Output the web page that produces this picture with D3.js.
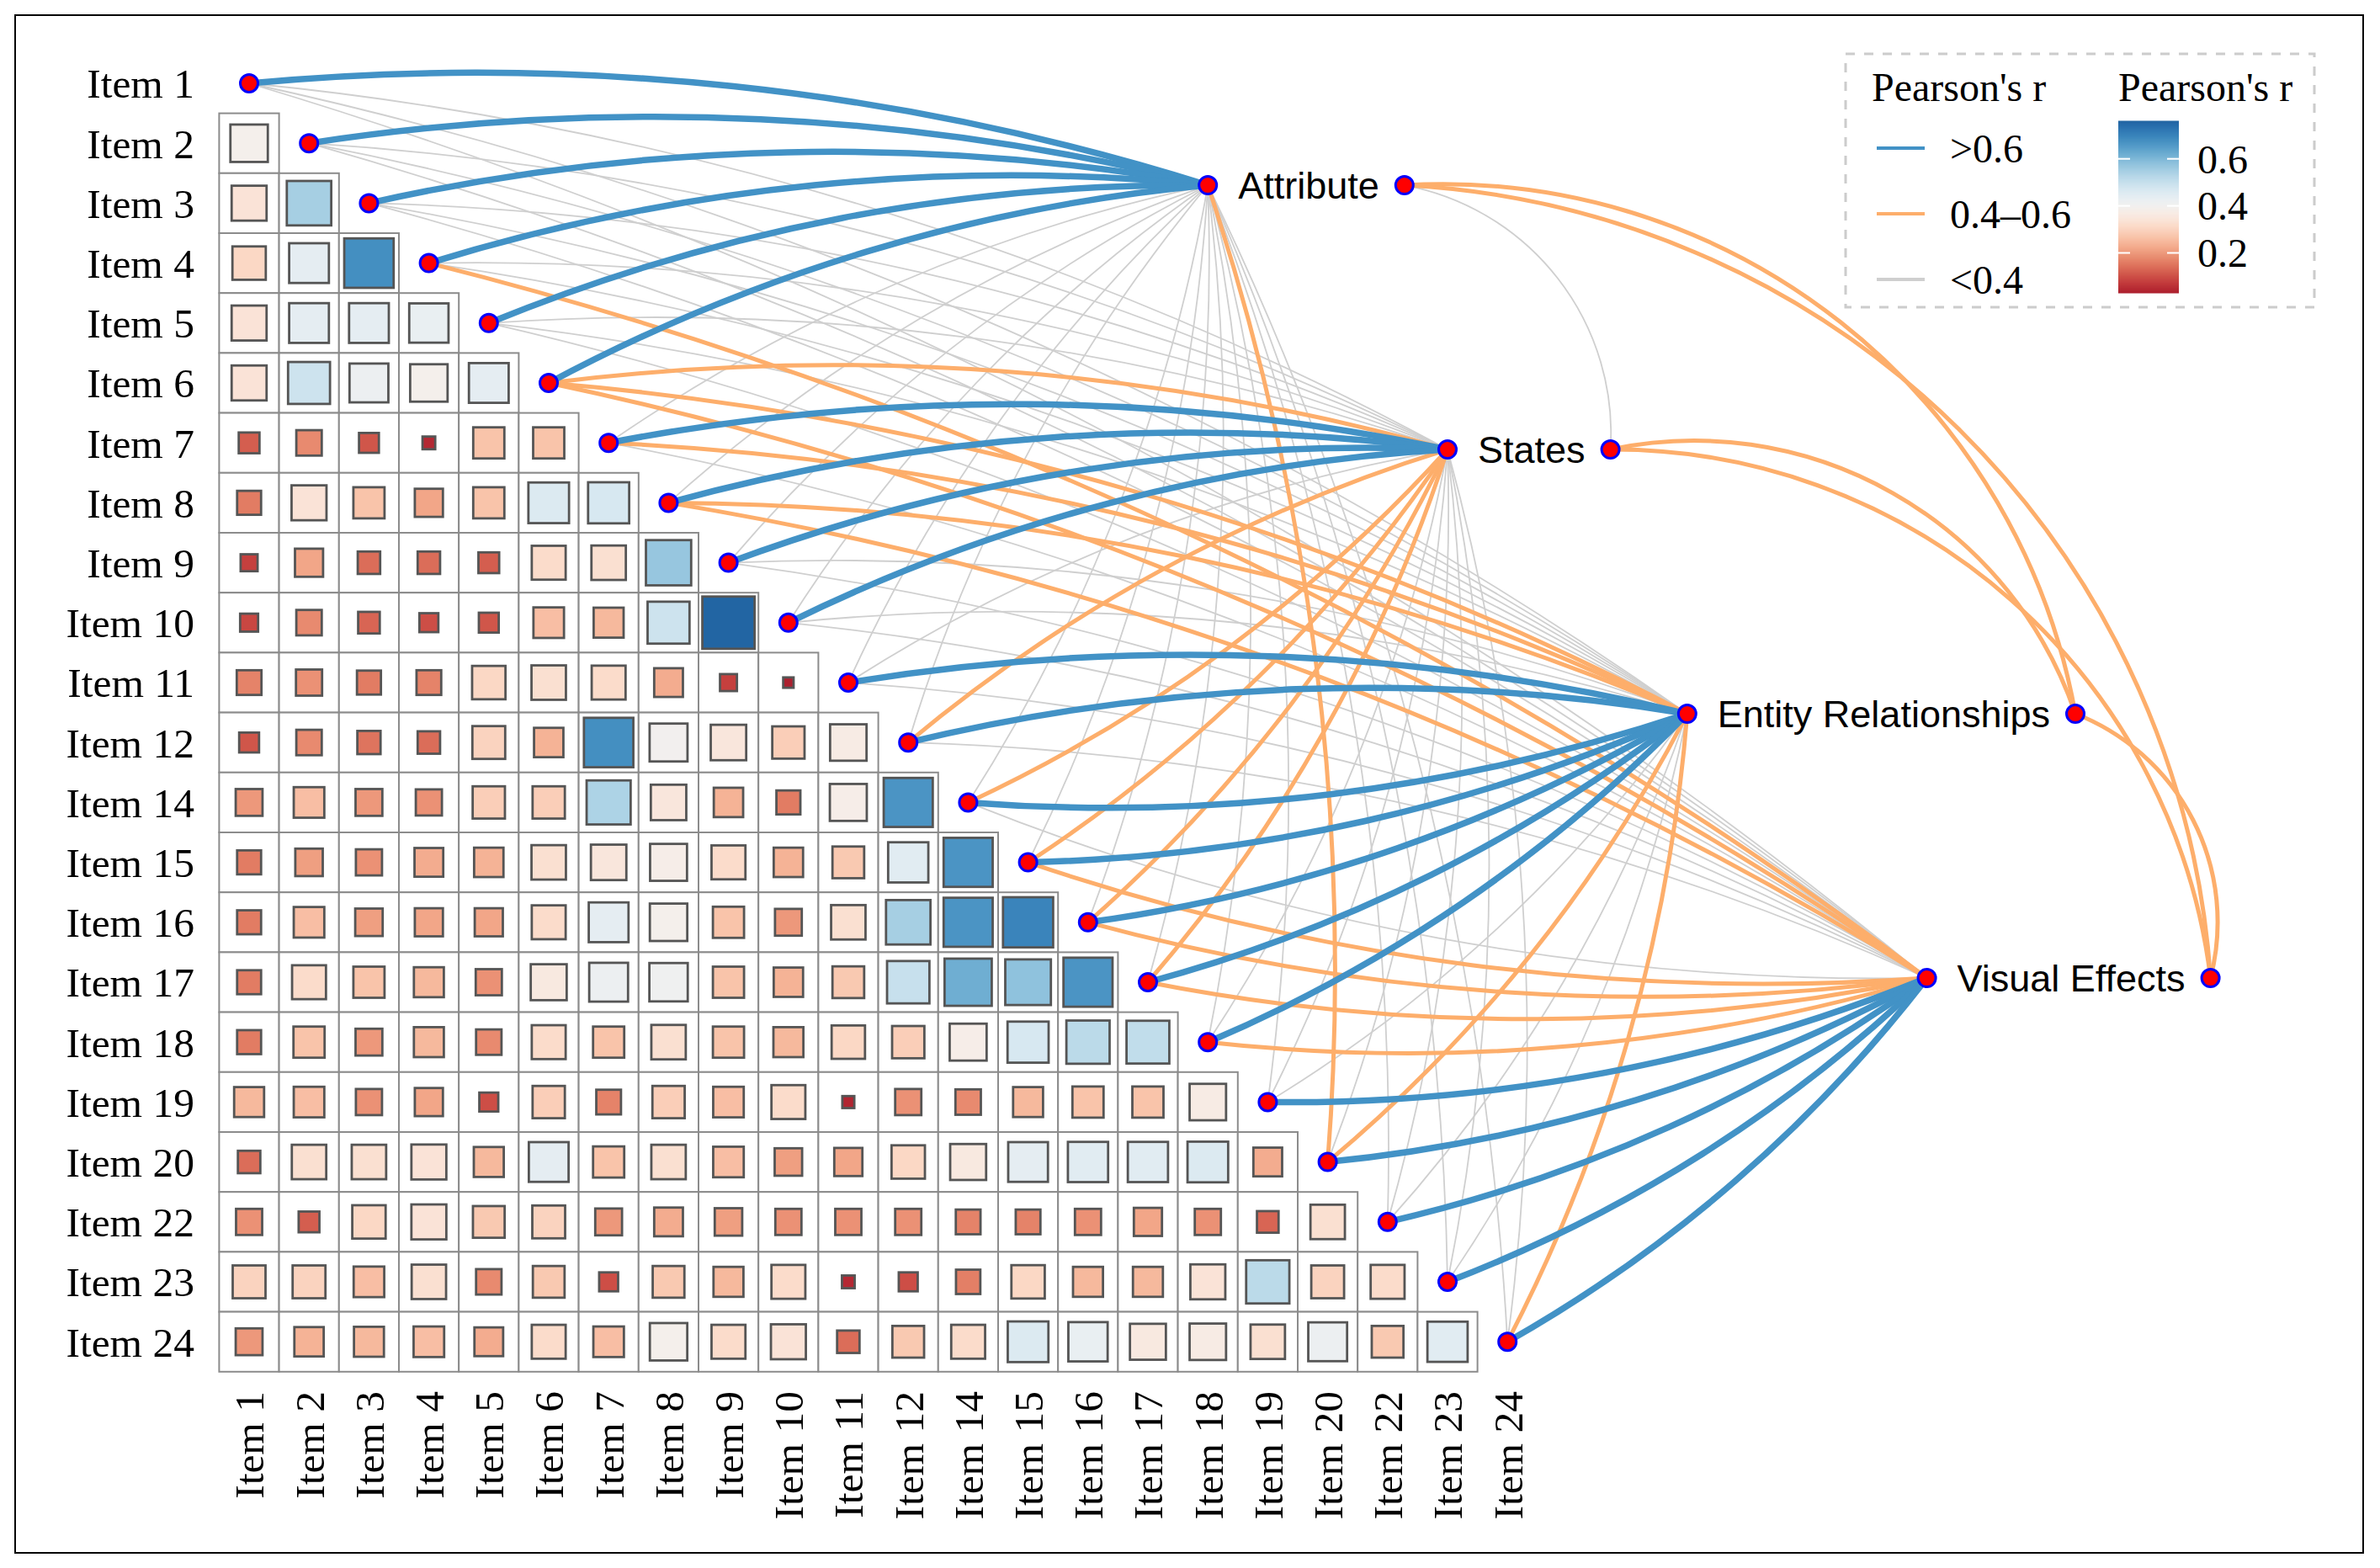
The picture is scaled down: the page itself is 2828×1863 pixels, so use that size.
<!DOCTYPE html>
<html><head><meta charset="utf-8">
<script src="https://cdn.jsdelivr.net/npm/d3@7"></script>
<style>body{margin:0;background:#fff} svg{display:block}</style>
</head><body>
<svg id="chart" width="2828" height="1863"></svg>
<script>
// ---------------- DATA ----------------
const items = ["Item 1","Item 2","Item 3","Item 4","Item 5","Item 6","Item 7","Item 8","Item 9","Item 10","Item 11","Item 12","Item 14","Item 15","Item 16","Item 17","Item 18","Item 19","Item 20","Item 22","Item 23","Item 24"];

// lower triangle of the item correlation matrix (row i holds columns 0..i-1)
const corrRows = [
  [],
  [0.39],
  [0.34,0.55],
  [0.31,0.44,0.68],
  [0.34,0.44,0.44,0.43],
  [0.34,0.49,0.42,0.39,0.44],
  [0.12,0.18,0.11,0.045,0.27,0.27],
  [0.16,0.34,0.27,0.22,0.27,0.46,0.47],
  [0.08,0.22,0.14,0.14,0.12,0.32,0.33,0.57],
  [0.09,0.18,0.13,0.10,0.11,0.26,0.25,0.49,0.76],
  [0.17,0.19,0.16,0.17,0.31,0.33,0.32,0.23,0.08,0.03],
  [0.11,0.18,0.15,0.14,0.30,0.24,0.68,0.40,0.35,0.29,0.37],
  [0.20,0.26,0.20,0.19,0.29,0.29,0.54,0.35,0.24,0.16,0.38,0.67],
  [0.16,0.21,0.19,0.23,0.24,0.33,0.35,0.38,0.32,0.24,0.28,0.45,0.67],
  [0.16,0.26,0.21,0.22,0.22,0.32,0.44,0.39,0.27,0.20,0.33,0.55,0.67,0.70],
  [0.16,0.32,0.27,0.25,0.19,0.36,0.42,0.41,0.27,0.24,0.28,0.50,0.62,0.58,0.67],
  [0.16,0.27,0.20,0.25,0.18,0.32,0.27,0.33,0.27,0.25,0.31,0.29,0.38,0.47,0.52,0.51],
  [0.25,0.26,0.19,0.22,0.10,0.29,0.17,0.29,0.26,0.32,0.04,0.19,0.18,0.25,0.27,0.27,0.37],
  [0.14,0.33,0.33,0.34,0.25,0.44,0.27,0.33,0.26,0.21,0.22,0.31,0.36,0.44,0.45,0.45,0.46,0.23],
  [0.19,0.12,0.31,0.34,0.28,0.30,0.20,0.23,0.21,0.19,0.19,0.19,0.17,0.17,0.19,0.22,0.19,0.13,0.33],
  [0.30,0.30,0.26,0.33,0.18,0.28,0.10,0.28,0.25,0.32,0.045,0.10,0.165,0.31,0.25,0.25,0.34,0.52,0.30,0.32],
  [0.20,0.24,0.25,0.26,0.23,0.32,0.26,0.39,0.32,0.34,0.14,0.28,0.32,0.46,0.43,0.36,0.37,0.33,0.42,0.28,0.45]
];

const factors = ["Attribute","States","Entity Relationships","Visual Effects"];
// item-to-factor Pearson's r (item order as in `items`)
const rAttribute = [0.68,0.66,0.70,0.67,0.65,0.64,0.22,0.30,0.25,0.24,0.28,0.27,0.31,0.33,0.34,0.32,0.35,0.36,0.45,0.30,0.33,0.37];
const rStates    = [0.28,0.30,0.32,0.35,0.33,0.46,0.66,0.69,0.72,0.70,0.36,0.48,0.47,0.50,0.52,0.49,0.38,0.30,0.37,0.29,0.33,0.36];
const rEntity    = [0.30,0.33,0.35,0.38,0.34,0.47,0.45,0.48,0.35,0.33,0.65,0.69,0.71,0.73,0.74,0.70,0.66,0.34,0.46,0.31,0.35,0.44];
const rVisual    = [0.27,0.31,0.34,0.42,0.36,0.45,0.37,0.44,0.30,0.28,0.32,0.36,0.39,0.46,0.50,0.48,0.47,0.68,0.72,0.66,0.70,0.65];

// factor-to-factor Pearson's r
const factorPairs = [["Attribute","States"],["Attribute","Entity Relationships"],["Attribute","Visual Effects"],
                     ["States","Entity Relationships"],["States","Visual Effects"],["Entity Relationships","Visual Effects"]];
const factorPairR = [0.36,0.47,0.45,0.52,0.50,0.55];

const edgeClasses = [">0.6","0.4–0.6","<0.4"];
const colorbarTicks = [0.2,0.4,0.6];
const legendTitle = "Pearson's r";

// ---------------- LAYOUT / STYLE ----------------
const svg = d3.select("#chart");
const cell = 71.2;
const x = d3.scaleLinear().domain([0,1]).range([296,296+cell]);
const y = d3.scaleLinear().domain([0,1]).range([99,99+cell]);
const size = d3.scaleSqrt().domain([0,1]).range([0,cell]);
const allR = corrRows.flat();
const rMin = d3.min(allR), rMax = d3.max(allR);
const fill = d3.scaleDiverging().domain([rMin,0.4,rMax]).interpolator(t => d3.interpolateRdBu(0.1 + 0.8*t));
const serif = "'Liberation Serif','Times New Roman',serif";
const sans = "'Liberation Sans',Arial,Helvetica,sans-serif";
const edgeColor = {">0.6":"#4292c6","0.4–0.6":"#fdae6b","<0.4":"#cfcfcf"};
const edgeWidth = {">0.6":7.5,"0.4–0.6":5,"<0.4":1.8};
const classOf = r => r > 0.6 ? ">0.6" : (r >= 0.4 ? "0.4–0.6" : "<0.4");

svg.append("rect").attr("x",18).attr("y",18).attr("width",2790).attr("height",1827)
  .attr("fill","#fff").attr("stroke","#000").attr("stroke-width",2);

// ---------------- MATRIX ----------------
const cells = [];
corrRows.forEach((row,i) => row.forEach((r,j) => cells.push({i,j,r})));
const gM = svg.append("g");
gM.selectAll("rect.cell").data(cells).join("rect").attr("class","cell")
  .attr("x",d => x(d.j)-cell/2).attr("y",d => y(d.i)-cell/2)
  .attr("width",cell).attr("height",cell)
  .attr("fill","#fff").attr("stroke","#8c8c8c").attr("stroke-width",2);
gM.selectAll("rect.sq").data(cells).join("rect").attr("class","sq")
  .attr("x",d => x(d.j)-size(d.r)/2).attr("y",d => y(d.i)-size(d.r)/2)
  .attr("width",d => size(d.r)).attr("height",d => size(d.r))
  .attr("fill",d => fill(d.r)).attr("stroke","#555").attr("stroke-width",2.8);

// row labels
svg.append("g").selectAll("text").data(items).join("text")
  .attr("x",231).attr("y",(d,i) => y(i)).attr("dy","0.35em")
  .attr("text-anchor","end").attr("font-family",serif).attr("font-size",49.5).text(d => d);
// column labels
svg.append("g").selectAll("text").data(items).join("text")
  .attr("transform",(d,i) => `translate(${x(i)},1653) rotate(-90)`)
  .attr("dy","0.35em").attr("text-anchor","end")
  .attr("font-family",serif).attr("font-size",49.5).text(d => d);

// ---------------- FACTOR NODES ----------------
const factorNodes = factors.map((f,k) => ({name:f, lx:x(16+4*k), ly:y(1.7+4.41*k)}));
const gF = svg.append("g");
const labels = gF.selectAll("text").data(factorNodes).join("text")
  .attr("x",d => d.lx+36).attr("y",d => d.ly).attr("dy","0.36em")
  .attr("font-family",sans).attr("font-size",45).attr("fill","#000").text(d => d.name);
labels.each(function(d){ d.rx = d.lx + 36 + this.getComputedTextLength() + 30; d.ry = d.ly; });
const fIndex = Object.fromEntries(factorNodes.map(d => [d.name,d]));

function arc(x1,y1,x2,y2,ratio,left){
  const L = Math.hypot(x2-x1,y2-y1), s = ratio*L, R = (L*L/4 + s*s)/(2*s);
  return `M${x1},${y1}A${R},${R} 0 0 ${left?1:0} ${x2},${y2}`;
}

// ---------------- EDGES ----------------
const factorR = [rAttribute,rStates,rEntity,rVisual];
const edges = [];
factorR.forEach((arr,k) => arr.forEach((r,i) => edges.push({i,k,r,c:classOf(r)})));
const order = {"<0.4":0,"0.4–0.6":1,">0.6":2};
edges.sort((a,b) => order[a.c]-order[b.c]);
const gE = svg.append("g");
gE.selectAll("path").data(edges).join("path")
  .attr("d",d => arc(x(d.i),y(d.i),factorNodes[d.k].lx,factorNodes[d.k].ly,0.05,d.i < 12))
  .attr("fill","none").attr("stroke",d => edgeColor[d.c]).attr("stroke-width",d => edgeWidth[d.c]);

const fEdges = factorPairs.map((p,n) => ({a:fIndex[p[0]], b:fIndex[p[1]], r:factorPairR[n], c:classOf(factorPairR[n])}))
  .sort((a,b) => order[a.c]-order[b.c]);
svg.append("g").selectAll("path").data(fEdges).join("path")
  .attr("d",d => arc(d.a.rx,d.a.ry,d.b.rx,d.b.ry,0.19,true))
  .attr("fill","none").attr("stroke",d => edgeColor[d.c]).attr("stroke-width",d => edgeWidth[d.c]);

// ---------------- DOTS ----------------
const dots = items.map((d,i) => ({cx:x(i), cy:y(i)}))
  .concat(factorNodes.map(d => ({cx:d.lx, cy:d.ly})))
  .concat(factorNodes.map(d => ({cx:d.rx, cy:d.ry})));
svg.append("g").selectAll("circle").data(dots).join("circle")
  .attr("cx",d => d.cx).attr("cy",d => d.cy).attr("r",10.5)
  .attr("fill","#ff0000").attr("stroke","#0000ff").attr("stroke-width",3);
gF.raise();

// ---------------- LEGEND ----------------
const gL = svg.append("g");
gL.append("rect").attr("x",2193).attr("y",64).attr("width",557).attr("height",301)
  .attr("fill","#fff").attr("stroke","#cccccc").attr("stroke-width",3).attr("stroke-dasharray","11,11");
gL.append("text").attr("x",2224).attr("y",120).attr("font-family",serif).attr("font-size",48).text(legendTitle);
gL.append("text").attr("x",2517).attr("y",120).attr("font-family",serif).attr("font-size",48).text(legendTitle);
const ly = d3.scalePoint().domain(edgeClasses).range([176,332]);
edgeClasses.forEach(c => {
  gL.append("line").attr("x1",2230).attr("x2",2287).attr("y1",ly(c)).attr("y2",ly(c))
    .attr("stroke",edgeColor[c]).attr("stroke-width",4);
  gL.append("text").attr("x",2317).attr("y",ly(c)).attr("dy","0.35em")
    .attr("font-family",serif).attr("font-size",48).text(c);
});
const cb = d3.scaleLinear().domain([rMin,rMax]).range([348,144]);
const steps = d3.range(0,200).map(k => rMin + (rMax-rMin)*k/200);
const dstep = (rMax-rMin)/200;
gL.append("g").selectAll("rect").data(steps).join("rect")
  .attr("x",2517).attr("width",72).attr("y",d => cb(d+dstep)-0.5).attr("height",d => cb(d)-cb(d+dstep)+1)
  .attr("fill",d => fill(d+dstep/2));
colorbarTicks.forEach(t => {
  gL.append("line").attr("x1",2517).attr("x2",2531).attr("y1",cb(t)).attr("y2",cb(t)).attr("stroke","#fff").attr("stroke-width",2);
  gL.append("line").attr("x1",2575).attr("x2",2589).attr("y1",cb(t)).attr("y2",cb(t)).attr("stroke","#fff").attr("stroke-width",2);
  gL.append("text").attr("x",2611).attr("y",cb(t)).attr("dy","0.35em")
    .attr("font-family",serif).attr("font-size",48).text(t.toFixed(1));
});
</script>
</body></html>
